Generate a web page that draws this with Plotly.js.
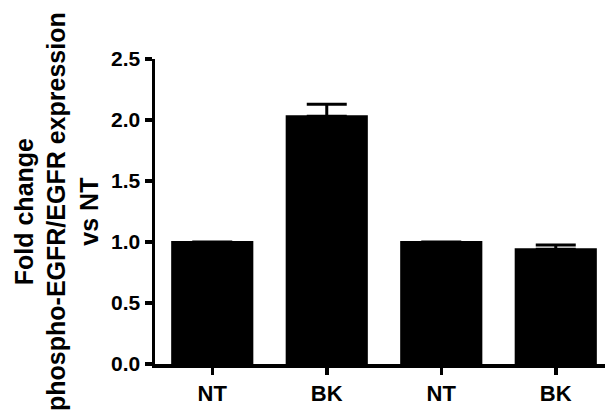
<!DOCTYPE html>
<html>
<head>
<meta charset="utf-8">
<script src="https://cdn.plot.ly/plotly-3.0.1.min.js"></script>
<style>html,body{margin:0;padding:0;background:#fff;}#chart{width:605px;height:412px;}</style>
</head>
<body>
<div id="chart"></div>
<script>
var categories = ["NT", "BK", "NT", "BK"];
var foldChange = [1.0, 2.03, 1.0, 0.94];
var errorUp = [0, 0.10, 0, 0.035];
var yTickVals = [0.0, 0.5, 1.0, 1.5, 2.0, 2.5];
var yTickText = ["0.0", "0.5", "1.0", "1.5", "2.0", "2.5"];
var titleLines = ["Fold change", "phospho-EGFR/EGFR expression", "vs NT"];

var positions = categories.map(function (c, i) { return i; });

var trace = {
  type: "bar",
  x: positions,
  y: foldChange,
  width: 0.7,
  marker: { color: "#000000", line: { color: "#000000", width: 2 } },
  error_y: {
    type: "data",
    symmetric: false,
    array: errorUp,
    arrayminus: errorUp.map(function () { return 0; }),
    color: "#000000",
    thickness: 3,
    width: 20,
    visible: true
  },
  hoverinfo: "skip"
};

var fontFam = "Arial, 'Liberation Sans', Helvetica, sans-serif";

var layout = {
  width: 605,
  height: 412,
  margin: { l: 155, r: 0, t: 59, b: 48, pad: 0 },
  paper_bgcolor: "#ffffff",
  plot_bgcolor: "#ffffff",
  showlegend: false,
  bargap: 0.3,
  xaxis: {
    range: [-0.5, 3.43],
    tickmode: "array",
    tickvals: positions,
    ticktext: categories,
    showline: true,
    linewidth: 3.5,
    linecolor: "#000000",
    ticks: "outside",
    ticklen: 7,
    tickwidth: 3.5,
    tickcolor: "#000000",
    showgrid: false,
    zeroline: false,
    tickfont: { family: fontFam, size: 22, color: "#000000", weight: "bold" },
    fixedrange: true
  },
  yaxis: {
    range: [0, 2.5],
    tickmode: "array",
    tickvals: yTickVals,
    ticktext: yTickText,
    showline: true,
    linewidth: 3.5,
    linecolor: "#000000",
    ticks: "outside",
    ticklen: 7,
    tickwidth: 3.5,
    tickcolor: "#000000",
    showgrid: false,
    zeroline: false,
    tickfont: { family: fontFam, size: 21, color: "#000000", weight: "bold" },
    fixedrange: true
  },
  annotations: [{
    xref: "paper",
    yref: "paper",
    x: -0.219,
    y: 0.5,
    xanchor: "center",
    yanchor: "middle",
    textangle: -90,
    showarrow: false,
    text: titleLines.join("<br>"),
    font: { family: fontFam, size: 25, color: "#000000", weight: "bold" }
  }]
};

Plotly.newPlot("chart", [trace], layout, { displayModeBar: false, staticPlot: true });
</script>
</body>
</html>
